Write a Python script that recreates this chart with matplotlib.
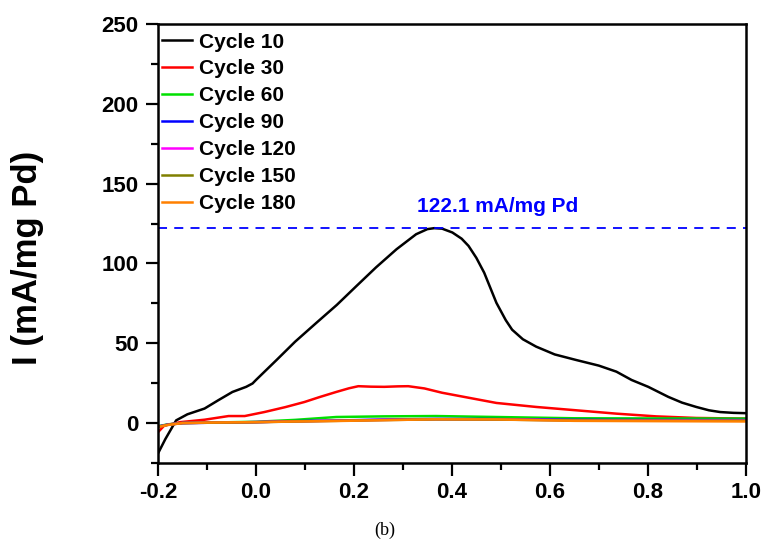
import matplotlib
matplotlib.use("Agg")
import matplotlib.pyplot as plt
from matplotlib.ticker import MultipleLocator

# potential (V) and mass activity (mA/mg Pd)
x_c10 = [-0.2, -0.185, -0.163, -0.14, -0.105, -0.077, -0.048, -0.02, -0.007, 0.0,
         0.042, 0.08, 0.123, 0.165, 0.205, 0.245, 0.287, 0.327, 0.35, 0.364,
         0.38, 0.401, 0.42, 0.434, 0.45, 0.466, 0.491, 0.51, 0.523, 0.545,
         0.572, 0.61, 0.654, 0.7, 0.736, 0.767, 0.801, 0.842, 0.87, 0.899,
         0.925, 0.948, 0.975, 1.0]
y_c10 = [-19.0, -10.0, 1.7, 5.5, 9.1, 14.3, 19.5, 22.7, 24.8, 27.0,
         39.5, 51.0, 62.7, 74.0, 85.8, 97.5, 108.9, 118.3, 121.5, 122.1,
         121.8, 119.4, 115.5, 111.0, 103.5, 94.2, 75.3, 64.5, 58.5, 52.5,
         47.9, 43.0, 39.5, 36.0, 32.2, 27.0, 22.7, 16.4, 12.8, 10.1,
         8.0, 6.9, 6.4, 6.2]

x_c30 = [-0.2, -0.187, -0.154, -0.105, -0.056, -0.023, 0.017, 0.06, 0.099,
         0.13, 0.164, 0.19, 0.209, 0.235, 0.262, 0.29, 0.311, 0.344, 0.38,
         0.425, 0.491, 0.572, 0.654, 0.736, 0.817, 0.899, 1.0]
y_c30 = [-5.7, -1.5, 0.6, 2.1, 4.4, 4.4, 6.9, 10.0, 13.2,
         16.3, 19.5, 21.8, 23.1, 22.8, 22.7, 23.0, 23.1, 21.7, 19.0,
         16.4, 12.6, 10.1, 8.0, 5.9, 4.2, 3.2, 2.8]

x_low = [-0.2, -0.18, -0.15, -0.1, 0.0, 0.08, 0.164, 0.26, 0.368, 0.49, 0.65, 0.82, 1.0]
y_c60 = [-2.0, -0.8, 0.0, 0.3, 0.8, 2.0, 3.8, 4.2, 4.4, 3.8, 3.0, 2.9, 2.8]
y_c90 = [-2.2, -1.0, 0.0, 0.2, 0.6, 1.2, 1.6, 2.2, 2.6, 2.5, 2.0, 1.9, 1.9]
y_c120 = [-2.3, -1.0, 0.0, 0.2, 0.6, 1.1, 1.5, 2.0, 2.4, 2.3, 1.8, 1.7, 1.7]
y_c150 = [-2.3, -1.1, 0.0, 0.2, 0.5, 1.0, 1.4, 1.9, 2.3, 2.2, 1.6, 1.5, 1.5]
y_c180 = [-2.5, -1.2, 0.0, 0.3, 0.6, 1.0, 1.3, 1.8, 2.4, 2.3, 1.4, 1.2, 1.0]

cycle_labels = ["Cycle 10", "Cycle 30", "Cycle 60", "Cycle 90",
                "Cycle 120", "Cycle 150", "Cycle 180"]
cycle_colors = ["#000000", "#ff0000", "#00e000", "#0000ff",
                "#ff00ff", "#808000", "#ff8000"]

peak_value = 122.1

plt.rcParams["font.family"] = ["Liberation Sans", "DejaVu Sans"]
plt.rcParams["font.weight"] = "bold"

fig = plt.figure(figsize=(7.69, 5.42), dpi=100)
ax = fig.add_axes([0.2055, 0.1458, 0.7642, 0.8099])

series = [(x_c10, y_c10), (x_c30, y_c30), (x_low, y_c60), (x_low, y_c90),
          (x_low, y_c120), (x_low, y_c150), (x_low, y_c180)]
for (xs, ys), label, color in zip(series, cycle_labels, cycle_colors):
    ax.plot(xs, ys, color=color, lw=1.8, label=label)

ax.axhline(peak_value, color="#0000ff", lw=1.3, linestyle=(0, (5, 4)))
ax.text(0.494, 135.4, "%.1f mA/mg Pd" % peak_value, color="#0000ff",
        fontsize=15, fontweight="bold", ha="center", va="center")

ax.set_xlim(-0.2, 1.0)
ax.set_ylim(-25, 250)
ax.xaxis.set_major_locator(MultipleLocator(0.2))
ax.xaxis.set_minor_locator(MultipleLocator(0.1))
ax.yaxis.set_major_locator(MultipleLocator(50))
ax.yaxis.set_minor_locator(MultipleLocator(25))
ax.set_xticks([-0.2, 0.0, 0.2, 0.4, 0.6, 0.8, 1.0])
ax.set_xticklabels(["-0.2", "0.0", "0.2", "0.4", "0.6", "0.8", "1.0"])
ax.set_yticks([0, 50, 100, 150, 200, 250])

ax.tick_params(which="major", direction="out", length=9, width=1.6,
               labelsize=16, pad=5, top=False, right=False)
ax.tick_params(which="minor", direction="out", length=5, width=1.6,
               top=False, right=False)
for spine in ax.spines.values():
    spine.set_linewidth(1.8)

ax.set_ylabel("I (mA/mg Pd)", fontsize=25, fontweight="bold")
ax.yaxis.set_label_coords(-0.194, 0.467)

leg = ax.legend(loc="upper left", frameon=False, fontsize=15,
                handlelength=1.45, handletextpad=0.3, labelspacing=0.38,
                borderpad=0.1, borderaxespad=0.1, bbox_to_anchor=(0.0, 0.99))
for line in leg.get_lines():
    line.set_linewidth(1.8)

fig.text(385 / 769, 1 - 530 / 542, "(b)", fontsize=13, fontweight="normal",
         family="Liberation Serif", ha="center", va="center")

fig.savefig("out.png", dpi=100)
